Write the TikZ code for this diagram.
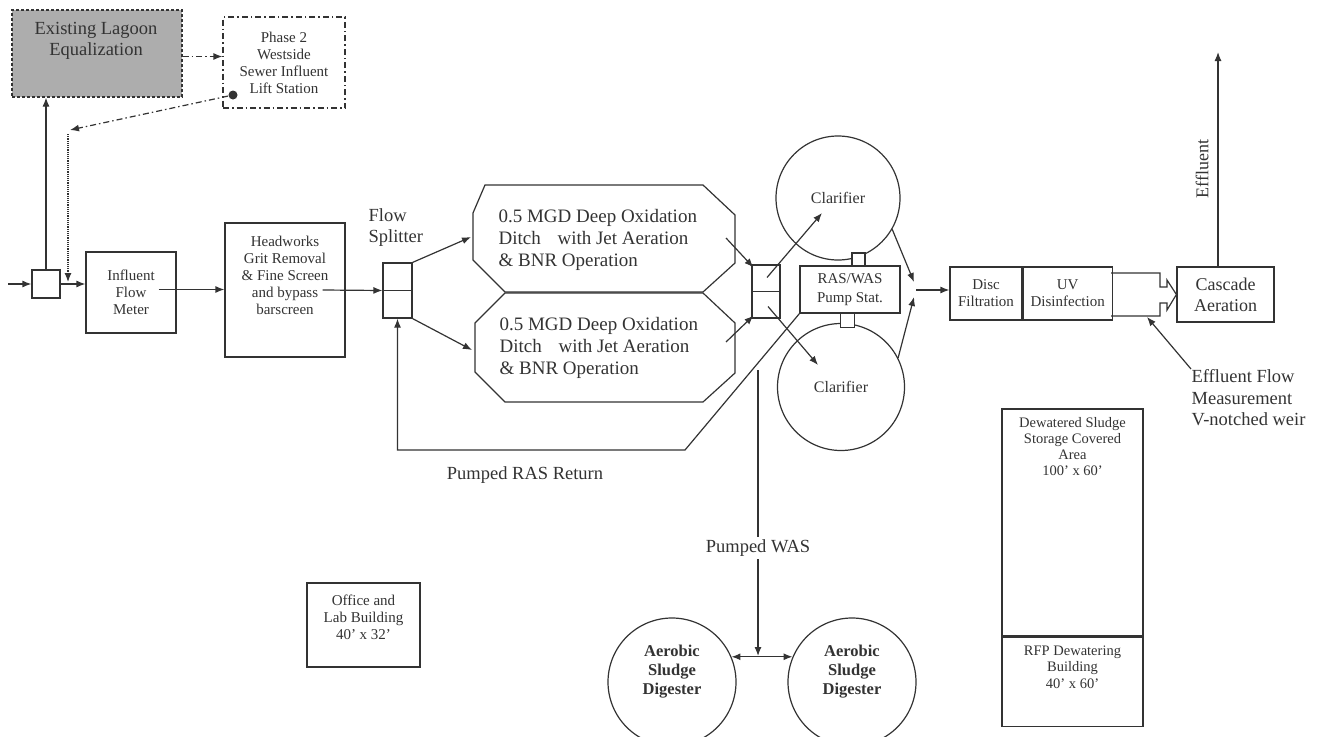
\documentclass[tikz,border=0pt]{standalone}
\usepackage{fontspec}
\setmainfont{Liberation Serif}
\usetikzlibrary{arrows.meta}
\usetikzlibrary{calc}
\definecolor{ink}{HTML}{333333}
\definecolor{lagoon}{HTML}{ADADAD}

\begin{document}
\begin{tikzpicture}[x=1pt, y=-1pt, line width=1.2pt, color=ink,
    box/.style={draw=ink, fill=white, align=center, inner sep=0pt,
      font=\fontsize{15}{17}\selectfont},
    txt/.style={align=center, inner sep=0pt, font=\fontsize{15}{17}\selectfont},
    lbl/.style={align=left, inner sep=0pt, font=\fontsize{18.5}{21.5}\selectfont},
    tank/.style={circle, draw=ink, inner sep=0pt, align=center},
    flow/.style={-{Latex[length=9pt,width=7pt]}},
    twoway/.style={{Latex[length=9pt,width=7pt]}-{Latex[length=9pt,width=7pt]}},
    dashdot/.style={dash pattern=on 6pt off 3pt on 1.5pt off 3pt}]
  \useasboundingbox (0,0) rectangle (1319,736);
  \clip (0,0) rectangle (1319,736);

  % lagoon and lift station
  \node[box, fill=lagoon, densely dashed, minimum width=170, minimum height=87] (lagoon) at (97,53.5) {};
  \node[txt, font=\fontsize{18.5}{21}\selectfont] (lagoontxt) at (96,41) {Existing Lagoon\\Equalization};
  \node[box, dashdot, minimum width=122, minimum height=91] (phase) at (284,62.5)
    {Phase 2\\Westside\\Sewer Influent\\Lift Station};
  \node[circle, fill=ink, minimum size=9, inner sep=0pt] (liftdot) at (233,95) {};

  % headworks train
  \node[box, minimum width=28, minimum height=28] (junc) at (46,284) {};
  \node[box, minimum width=90, minimum height=81] (meter) at (131,292.5) {Influent\\Flow\\Meter};
  \node[box, minimum width=120, minimum height=134] (head) at (285,290) {};
  \node[txt] (headtxt) at (285,275) {Headworks\\Grit Removal\\\& Fine Screen\\and bypass\\barscreen};
  \node[box, minimum width=29, minimum height=55] (split) at (397.5,290.5) {};
  \draw (split.west) -- (split.east);
  \node[lbl, anchor=north west] (splitlbl) at (368,208) {Flow\\Splitter};

  % oxidation ditches
  \draw (485,185) -- (703,185) -- (735,215) -- (735,263) -- (703,292) -- (505,292) -- (473,260) -- (473,213) -- cycle;
  \draw (505,293) -- (703,293) -- (735,323) -- (735,373) -- (703,402) -- (505,402) -- (475,372) -- (475,323) -- cycle;
  \node[lbl, anchor=west, font=\fontsize{19}{22}\selectfont] (ditchA) at (498,240)
    {0.5 MGD Deep Oxidation\\Ditch\hspace{12pt} with Jet Aeration\\\& BNR Operation};
  \node[lbl, anchor=west, font=\fontsize{19}{22}\selectfont] (ditchB) at (499,348)
    {0.5 MGD Deep Oxidation\\Ditch\hspace{12pt} with Jet Aeration\\\& BNR Operation};
  \coordinate (ditchAin) at (471,237);
  \coordinate (ditchBin) at (472,350);
  \coordinate (ditchAout) at (726,238);
  \coordinate (ditchBout) at (726,342);

  % clarifiers and pump station
  \node[box, minimum width=28, minimum height=53] (outlet) at (766,291.5) {};
  \draw (outlet.west) -- (outlet.east);
  \node[tank, minimum size=124, font=\fontsize{16}{18}\selectfont] (clarA) at (838,198) {Clarifier};
  \node[tank, minimum size=127, font=\fontsize{16}{18}\selectfont] (clarB) at (841,387) {Clarifier};
  \node[box, minimum width=100, minimum height=47, font=\fontsize{15}{19}\selectfont] (ras) at (850,289.5) {RAS/WAS\\Pump Stat.};
  \node[box, minimum size=13] (sqA) at (858.5,259.5) {};
  \node[box, minimum size=14] (sqB) at (847.5,320.5) {};
  \coordinate (effjoin) at (916,290);

  % tertiary treatment
  \node[box, minimum width=72, minimum height=53] (disc) at (986,293.5) {Disc\\Filtration};
  \node[box, minimum width=89, minimum height=53, anchor=west] (uv) at (disc.east) {UV\\Disinfection};
  \node[box, minimum width=97, minimum height=55, font=\fontsize{18}{21}\selectfont] (cascade) at (1225.5,294.5) {Cascade\\Aeration};
  \coordinate (outfall) at (1218,52);
  \node[rotate=90, inner sep=0pt, font=\fontsize{18}{19}\selectfont] (efflbl) at (1202,169) {Effluent};
  \node[lbl, anchor=north west] (weirlbl) at (1191,369)
    {Effluent Flow\\Measurement\\V-notched weir};
  \coordinate (weirpt) at (1147,317);

  % solids handling and buildings
  \node[tank, minimum size=128] (digA) at (672,682) {};
  \node[tank, minimum size=128] (digB) at (852,682) {};
  \node[txt, font=\bfseries\fontsize{16.5}{19}\selectfont] (digAtxt) at (672,672) {Aerobic\\Sludge\\Digester};
  \node[txt, font=\bfseries\fontsize{16.5}{19}\selectfont] (digBtxt) at (852,672) {Aerobic\\Sludge\\Digester};
  \coordinate (wasstart) at (758,370);
  \coordinate (wasjoin) at (758,656);
  \node[box, minimum width=113, minimum height=84] (office) at (363.5,625) {};
  \node[txt] (officetxt) at (363.5,617) {Office and\\Lab Building\\40' x 32'};
  \node[box, minimum width=141, minimum height=227] (store) at (1072.5,522.5) {};
  \node[txt, font=\fontsize{14.5}{16}\selectfont] (storetxt) at (1072.5,447) {Dewatered Sludge\\Storage Covered\\Area\\100' x 60'};
  \node[box, minimum width=141, minimum height=89, anchor=north] (rfp) at (store.south) {};
  \node[txt, font=\fontsize{14.5}{16.5}\selectfont] (rfptxt) at (1072.5,667) {RFP Dewatering\\Building\\40' x 60'};

  % connectors
  \coordinate (inlet) at (8,284);
  \draw[flow] (inlet) -- (junc.west);
  \draw[flow] (junc.north) -- (junc.north |- lagoon.south);
  \draw[flow] (junc.east) -- (junc.east -| meter.west);
  \draw[flow, dashdot] ([yshift=-3pt]lagoon.east) -- ([yshift=-3pt]lagoon.east -| phase.west);
  \coordinate (bypasscorner) at (70,130);
  \draw[flow, dashdot] (liftdot) -- (bypasscorner);
  \draw[flow, densely dotted] (68,134) -- (68,282);
  \draw[flow] ([xshift=-18pt,yshift=3pt]meter.east) -- ([yshift=3pt]meter.east -| head.west);
  \draw[flow] ([xshift=-23pt]head.east) -- (split.west);
  \draw[flow] (split.north east) -- (ditchAin);
  \draw[flow] (split.south east) -- (ditchBin);
  \draw[flow] (ditchAout) -- ([xshift=2pt,yshift=-3pt]outlet.north west);
  \draw[flow] (ditchBout) -- ([xshift=2pt,yshift=3pt]outlet.south west);
  \draw[flow] ([xshift=1pt,yshift=14pt]outlet.center) -- ([xshift=-16pt,yshift=-15pt]clarA.center);
  \draw[flow] ([xshift=2pt,yshift=-15pt]outlet.center) -- ([xshift=-23pt,yshift=22pt]clarB.center);
  \draw[flow] (clarA.-30) -- ([xshift=-2pt,yshift=8pt]effjoin);
  \draw[flow] (clarB.27) -- ([xshift=-2pt,yshift=-7pt]effjoin);
  \draw[flow] (effjoin) -- (effjoin -| disc.west);
  \draw (1111,273) -- (1160,273) -- (1160,287) -- (1167,287) -- (1167,280) -- (cascade.west)
    -- (1167,310) -- (1167,303) -- (1160,303) -- (1160,316) -- (1111,316);
  \draw[flow] (outfall |- cascade.north) -- (outfall);
  \draw[flow] (weirlbl.north west) -- (weirpt);
  \coordinate (rasbend) at (685,450);
  \draw[flow] (ras.south west) -- (rasbend) -- (rasbend -| split.south) -- (split.south);
  \node[lbl] (raslbl) at (525,475) {Pumped RAS Return};
  \draw[flow] (wasstart) -- (wasjoin);
  \node[lbl, fill=white, inner sep=3pt] (waslbl) at (758,548) {Pumped WAS};
  \draw[twoway] (digA.23) -- (digB.157);
\end{tikzpicture}
\end{document}
